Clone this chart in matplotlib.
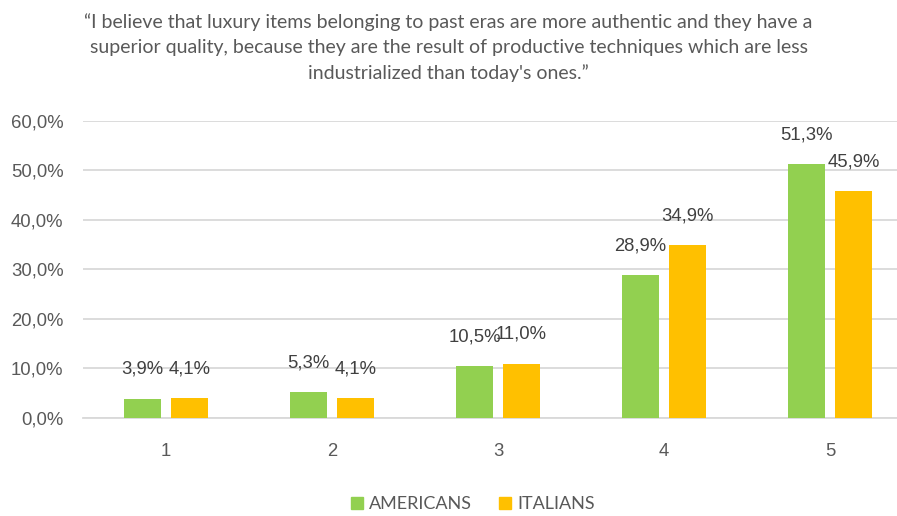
import matplotlib.pyplot as plt
import numpy as np
from matplotlib.patches import Patch

categories = ["1", "2", "3", "4", "5"]
americans = [3.9, 5.3, 10.5, 28.9, 51.3]
italians = [4.1, 4.1, 11.0, 34.9, 45.9]
yticks = [0, 10, 20, 30, 40, 50, 60]

title = ("\u201cI believe that luxury items belonging to past eras are more authentic and they have a\n"
         "superior quality, because they are the result of productive techniques which are less\n"
         "industrialized than today's ones.\u201d")

GREEN = "#92D050"
ORANGE = "#FFC000"
GRID = "#D9D9D9"
TEXT = "#595959"

fig = plt.figure(figsize=(8.97, 5.16), dpi=100)
ax = fig.add_axes([83 / 897, 0.19, 830 / 897, 0.5755])

x = np.arange(len(categories))
w = 0.223
off = 0.1416
b1 = ax.bar(x - off, americans, w, color=GREEN, zorder=3)
b2 = ax.bar(x + off, italians, w, color=ORANGE, zorder=3)

for bars, vals in ((b1, americans), (b2, italians)):
    for r, v in zip(bars, vals):
        ax.annotate(f"{v:.1f}%".replace(".", ","), (r.get_x() + r.get_width() / 2, v),
                    xytext=(0, 21), textcoords="offset points", ha="center", va="center",
                    fontsize=13.3, color="#404040", family="Liberation Sans")

ax.set_xlim(-0.5, 4.5)
ax.set_ylim(0, 60)
ax.set_yticks(yticks)
ax.set_yticklabels([f"{t:.1f}%".replace(".", ",") for t in yticks])
ax.set_xticks(x)
ax.set_xticklabels(categories)
ax.yaxis.grid(True, color=GRID, linewidth=1.3, zorder=0)
for s in ["top", "right", "left"]:
    ax.spines[s].set_visible(False)
ax.spines["bottom"].set_color(GRID)
ax.spines["bottom"].set_linewidth(1.3)
ax.tick_params(length=0, colors=TEXT, labelsize=13.3)
ax.tick_params(axis="y", pad=14)
ax.tick_params(axis="x", pad=18)
for lbl in ax.get_xticklabels() + ax.get_yticklabels():
    lbl.set_family("Liberation Sans")

fig.text(0.5, 0.908, title, ha="center", va="center", color=TEXT,
         family="Lato", fontsize=14, linespacing=1.55)

handles = [Patch(color=GREEN, label="AMERICANS"), Patch(color=ORANGE, label="ITALIANS")]
fig.legend(handles=handles, loc="center", bbox_to_anchor=(0.527, 0.023), ncol=2,
           frameon=False, labelcolor=TEXT, handlelength=0.65,
           handleheight=0.65, handletextpad=0.35, columnspacing=1.5,
           prop={"family": "Lato", "size": 13})

fig.savefig("out.png", dpi=100)
